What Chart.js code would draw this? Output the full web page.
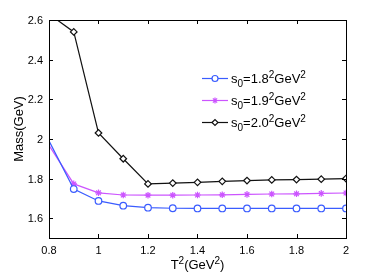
<!DOCTYPE html>
<html><head><meta charset="utf-8">
<script src="https://cdn.jsdelivr.net/npm/chart.js@4/dist/chart.umd.min.js"></script>
<style>html,body{margin:0;padding:0;background:#fff}#wrap{width:382px;height:273px}</style>
</head><body><div id="wrap"><canvas id="c" width="382" height="273"></canvas></div>
<script>
const xValues = [0.8,0.9,1.0,1.1,1.2,1.3,1.4,1.5,1.6,1.7,1.8,1.9,2.0];
const s18 = [1.99,1.747,1.687,1.663,1.653,1.650,1.649,1.649,1.649,1.649,1.649,1.649,1.649];
const s19 = [1.967,1.773,1.728,1.717,1.716,1.716,1.717,1.718,1.720,1.722,1.723,1.725,1.727];
const s20 = [2.63,2.54,2.03,1.90,1.773,1.777,1.781,1.786,1.790,1.793,1.795,1.797,1.800];
const xTicks = [0.8,1.0,1.2,1.4,1.6,1.8,2.0];
const yTicks = [1.6,1.8,2.0,2.2,2.4,2.6];
const xTickLabels = ['0.8','1','1.2','1.4','1.6','1.8','2'];
const yTickLabels = ['1.6','1.8','2','2.2','2.4','2.6'];
const legendLabels = ['1.8','1.9','2.0'];

const FONT = '"Liberation Sans", Arial, sans-serif';
const BLUE = '#3a5cff', MAG = '#cc55ff', BLK = '#111111';

function pts(ys){ return xValues.map((x,i)=>({x:x,y:ys[i]})); }
function ds(label, ys, color, style, fill){
  return {label, data: pts(ys), borderColor: color, backgroundColor: fill,
    borderWidth: 1.2, tension: 0, pointStyle: style,
    pointRadius: ctx => ctx.dataIndex === 0 ? 0 : 3.3,
    pointBorderColor: color, pointBackgroundColor: fill, pointBorderWidth: 1.2, pointHoverRadius: 0};
}

const MAIN = 13, SMALL = 10;
function drawRich(ctx, x, y, parts){
  let cx = x;
  for (const [t, m] of parts){
    if (m === 'n'){ ctx.font = MAIN + 'px ' + FONT; ctx.fillText(t, cx, y); }
    else if (m === 'sub'){ ctx.font = SMALL + 'px ' + FONT; ctx.fillText(t, cx, y + 4); }
    else { ctx.font = SMALL + 'px ' + FONT; ctx.fillText(t, cx, y - 5); }
    cx += ctx.measureText(t).width;
  }
  return cx - x;
}
function richWidth(ctx, parts){
  let w = 0;
  for (const [t,m] of parts){ ctx.font = (m==='n'?MAIN:SMALL) + 'px ' + FONT; w += ctx.measureText(t).width; }
  return w;
}

const decor = {
  id: 'decor',
  afterDraw(chart){
    const ctx = chart.ctx, a = chart.chartArea;
    const xs = chart.scales.x, ys = chart.scales.y;
    ctx.save();
    ctx.strokeStyle = '#000'; ctx.lineWidth = 1;
    ctx.strokeRect(Math.round(a.left)+0.5, Math.round(a.top)+0.5, Math.round(a.right-a.left), Math.round(a.bottom-a.top));
    const L = 4;
    ctx.beginPath();
    for (const v of xTicks){
      const p = Math.round(xs.getPixelForValue(v)) + 0.5;
      ctx.moveTo(p, a.bottom); ctx.lineTo(p, a.bottom - L);
      ctx.moveTo(p, a.top); ctx.lineTo(p, a.top + L);
    }
    for (const v of yTicks){
      const p = Math.round(ys.getPixelForValue(v)) + 0.5;
      ctx.moveTo(a.left, p); ctx.lineTo(a.left + L, p);
      ctx.moveTo(a.right, p); ctx.lineTo(a.right - L, p);
    }
    ctx.stroke();

    // tick labels
    ctx.fillStyle = '#000';
    ctx.font = '11px ' + FONT;
    ctx.textAlign = 'center'; ctx.textBaseline = 'alphabetic';
    xTicks.forEach((v,i)=>{ ctx.fillText(xTickLabels[i], xs.getPixelForValue(v), a.bottom + 16); });
    ctx.textAlign = 'right'; ctx.textBaseline = 'middle';
    yTicks.forEach((v,i)=>{ ctx.fillText(yTickLabels[i], a.left - 6, ys.getPixelForValue(v) + 1); });

    // axis titles
    ctx.textBaseline = 'alphabetic'; ctx.textAlign = 'left';
    const xt = [['T','n'],['2','sup'],['(GeV','n'],['2','sup'],[')','n']];
    const w = richWidth(ctx, xt);
    drawRich(ctx, (a.left + a.right)/2 - w/2, 269, xt);
    ctx.save();
    ctx.translate(23, (a.top + a.bottom)/2);
    ctx.rotate(-Math.PI/2);
    ctx.font = MAIN + 'px ' + FONT; ctx.textAlign = 'center';
    ctx.fillText('Mass(GeV)', 0, 0);
    ctx.restore();

    // legend
    const rows = [78, 100, 122];
    const cols = [BLUE, MAG, BLK];
    const styles = ['circle','star','rectRot'];
    for (let i=0;i<3;i++){
      const y = rows[i];
      ctx.strokeStyle = cols[i]; ctx.lineWidth = 1.2;
      ctx.beginPath(); ctx.moveTo(202, y+0.5); ctx.lineTo(228, y+0.5); ctx.stroke();
      ctx.fillStyle = i===1 ? MAG : '#fff';
      Chart.helpers.drawPoint(ctx, {pointStyle: styles[i], radius: 3, borderWidth: 1.2}, 215, y+0.5);
      ctx.fillStyle = '#000'; ctx.textAlign = 'left';
      drawRich(ctx, 231, y + 5, [['s','n'],['0','sub'],['=' + legendLabels[i],'n'],['2','sup'],['GeV','n'],['2','sup']]);
    }
    ctx.restore();
  }
};

new Chart(document.getElementById('c'), {
  type: 'line',
  data: { datasets: [
    ds('s0=1.8^2GeV^2', s18, BLUE, 'circle', '#ffffff'),
    ds('s0=1.9^2GeV^2', s19, MAG, 'star', MAG),
    ds('s0=2.0^2GeV^2', s20, BLK, 'rectRot', '#ffffff')
  ]},
  options: {
    responsive: false, animation: false, devicePixelRatio: 1,
    layout: { padding: { left: 0, right: 36, top: 20, bottom: 0 } },
    plugins: { legend: { display: false }, tooltip: { enabled: false } },
    scales: {
      x: { type: 'linear', min: 0.8, max: 2.0,
        afterBuildTicks: s => { s.ticks = xTicks.map(v => ({value: v})); },
        afterFit: s => { s.height = 35; },
        grid: { display: false }, border: { display: false },
        ticks: { display: false } },
      y: { type: 'linear', min: 1.5, max: 2.6,
        afterBuildTicks: s => { s.ticks = yTicks.map(v => ({value: v})); },
        afterFit: s => { s.width = 49; },
        grid: { display: false }, border: { display: false },
        ticks: { display: false } }
    }
  },
  plugins: [decor]
});
</script></body></html>
